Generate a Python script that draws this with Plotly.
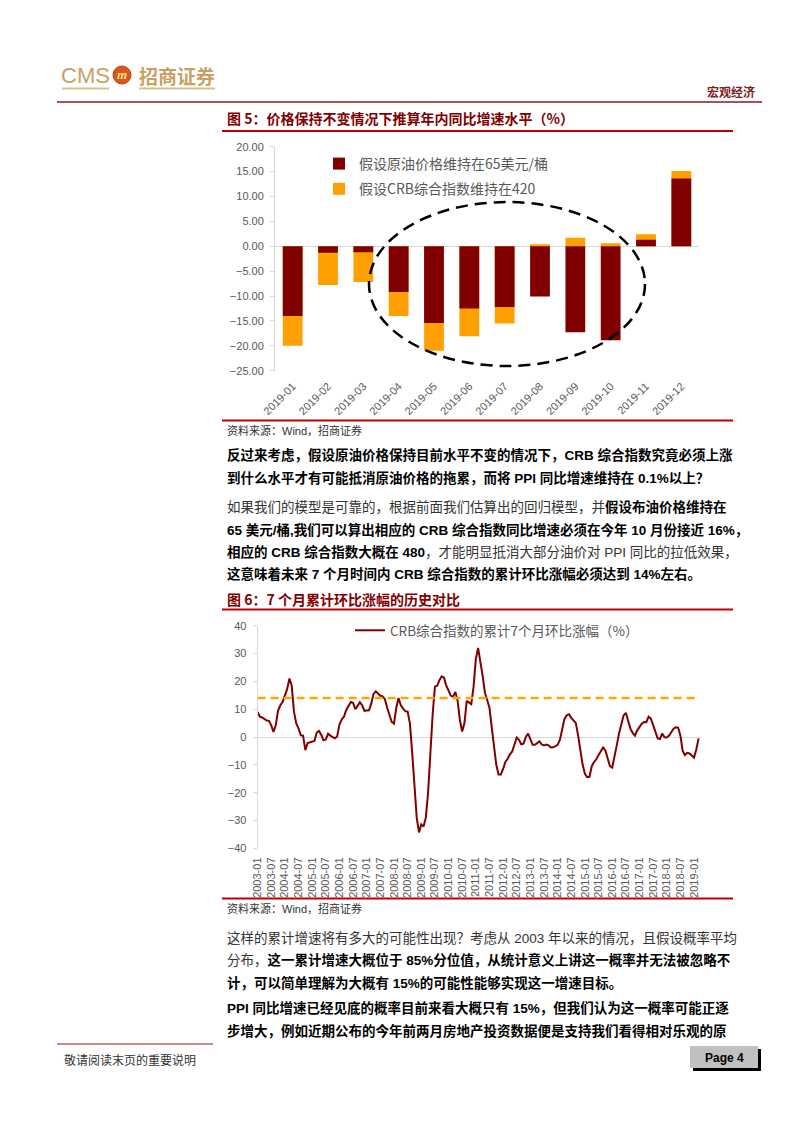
import plotly.graph_objects as go

# ---------------- data ----------------
bar_months = ['2019-01', '2019-02', '2019-03', '2019-04', '2019-05', '2019-06',
              '2019-07', '2019-08', '2019-09', '2019-10', '2019-11', '2019-12']
oil65 = [-14.0, -1.3, -1.2, -9.2, -15.4, -12.5, -12.2, -10.1, -17.3, -18.9, 1.3, 13.6]
crb420 = [-20.0, -7.8, -7.2, -14.0, -21.0, -18.1, -15.5, 0.4, 1.7, 0.6, 2.4, 15.1]
bar_name_oil = '假设原油价格维持在65美元/桶'
bar_name_crb = '假设CRB综合指数维持在420'

line_months = [f'{y}-{m:02d}' for y in range(2003, 2020) for m in range(1, 13)][:195]
crb7m = [
    9.0, 7.3, 7.0, 6.3, 5.9, 5.8, 4.2, 1.8, 4.3, 9.5,
    11.4, 12.6, 14.8, 17.2, 21.0, 18.4, 9.1, 4.9, 3.1, 0.6,
    0.5, -4.7, -2.2, -1.9, -1.7, -1.4, 1.6, 2.2, 0.8, -1.2,
    -0.9, 1.2, 0.5, -0.1, -0.5, 0.2, 4.5, 6.3, 7.3, 9.7,
    11.3, 12.6, 12.3, 10.0, 11.2, 12.5, 11.4, 9.4, 9.5, 9.6,
    12.0, 15.5, 16.4, 15.5, 14.8, 14.6, 13.6, 10.5, 7.5, 5.4,
    4.8, 10.5, 14.0, 11.4, 10.2, 9.3, 9.1, 4.9, -5.5, -19.0,
    -29.0, -34.3, -31.4, -32.2, -29.0, -20.0, -4.0, 8.0, 18.1, 18.4,
    20.4, 21.8, 21.3, 18.4, 16.7, 14.8, 14.5, 16.2, 13.0, 6.0,
    2.0, 5.0, 13.0, 12.5, 11.8, 18.0, 28.0, 32.0, 27.5, 22.0,
    16.0, 13.5, 10.5, 3.5, -4.5, -10.0, -13.5, -13.5, -11.5, -9.0,
    -7.8, -6.2, -5.2, -2.5, -0.2, -1.0, -2.6, -2.4, 0.0, 1.2,
    -0.8, -2.8, -2.8, -2.1, -1.6, -2.7, -3.0, -2.7, -3.0, -3.8,
    -3.7, -3.3, -2.8, -1.0, 2.8, 6.5, 7.8, 8.2, 6.9, 6.0,
    5.0, 0.5, -5.0, -10.0, -13.2, -14.4, -14.3, -10.5, -9.0, -8.0,
    -6.5, -5.0, -3.8, -4.8, -7.5, -10.5, -11.0, -7.5, -3.0, 1.3,
    4.6, 7.7, 8.7, 6.0, 3.0, 1.5, 0.5, 2.4, 3.7, 4.8,
    5.4, 5.3, 7.3, 6.6, 4.3, 2.0, -0.5, -0.7, 1.3, -0.1,
    -0.2, 0.5, 1.6, 3.0, 3.5, 3.4, 0.5, -5.0, -6.5, -5.7,
    -5.9, -6.8, -7.4, -4.5, -0.5,
]
line_name = 'CRB综合指数的累计7个月环比涨幅（%）'
threshold = 14
line_ticks = line_months[::6]

# ---------------- page geometry helpers ----------------
W, H = 793, 1122
OFF = 8  # page body margin of the browser
def px(x): return (x - OFF) / W
def py(y): return 1 - (y - OFF) / H

FONT = 'Liberation Sans, Arial, Noto Sans CJK SC'
CJK = 'Noto Sans CJK SC, Liberation Sans'
AXIS_C = '#D9D9D9'
TXT_C = '#595959'
DARKRED = '#800000'
ORANGE = '#FF9F00'

fig = go.Figure()

# chart 1: bars (overlay, orange behind)
fig.add_trace(go.Bar(x=bar_months, y=crb420, name=bar_name_crb, marker_color=ORANGE,
                     marker_line_width=0, xaxis='x', yaxis='y', legend='legend',
                     legendgroup='b', legendrank=2))
fig.add_trace(go.Bar(x=bar_months, y=oil65, name=bar_name_oil, marker_color=DARKRED,
                     marker_line_width=0, xaxis='x', yaxis='y', legend='legend',
                     legendgroup='a', legendrank=1))

# chart 2: line
fig.add_trace(go.Scatter(x=line_months, y=crb7m, name=line_name, mode='lines',
                         line=dict(color=DARKRED, width=2), xaxis='x2', yaxis='y2',
                         legend='legend2'))

axis_common = dict(showgrid=False, automargin=False,
                   tickfont=dict(family=FONT, size=11, color=TXT_C))

fig.update_layout(
    width=W, height=H, margin=dict(l=0, r=0, t=0, b=0, pad=0, autoexpand=False),
    paper_bgcolor='white', plot_bgcolor='white',
    barmode='overlay', bargap=0.44,
    font=dict(family=CJK, color='#333333'),
    xaxis=dict(domain=[px(275), px(699)], anchor='y', type='category',
               tickangle=-45, ticks='', showline=False, ticklabelstandoff=6,
               **axis_common),
    yaxis=dict(domain=[py(370.7), py(146.7)], anchor='x', range=[-25, 20], dtick=5,
               tickformat='.2f', showline=True, linecolor=AXIS_C, linewidth=1,
               ticks='outside', ticklen=4, tickcolor=AXIS_C, zeroline=True,
               zerolinecolor=AXIS_C, zerolinewidth=1, ticklabelstandoff=4,
               **axis_common),
    xaxis2=dict(domain=[px(257.6), px(702)], anchor='y2', type='category',
                range=[0, 195.5], tickmode='array', tickvals=line_ticks, ticktext=line_ticks,
                tickangle=-90, ticks='', showline=False, ticklabelstandoff=6,
                **axis_common),
    yaxis2=dict(domain=[py(848.3), py(625.7)], anchor='x2', range=[-40, 40], dtick=10,
                showline=True, linecolor=AXIS_C, linewidth=1, ticks='outside', ticklen=4,
                tickcolor=AXIS_C, zeroline=True, zerolinecolor=AXIS_C, zerolinewidth=1,
                ticklabelstandoff=4, **axis_common),
    legend=dict(x=px(319), y=py(148), xanchor='left', yanchor='top',
                bgcolor='rgba(0,0,0,0)', traceorder='grouped', tracegroupgap=4,
                font=dict(family=CJK, size=14, color=TXT_C)),
    legend2=dict(x=px(350), y=py(615), xanchor='left', yanchor='top',
                 bgcolor='rgba(0,0,0,0)', font=dict(family=CJK, size=13.5, color=TXT_C)),
)

shapes = []
def hline(x0, x1, y, color, width):
    shapes.append(dict(type='line', xref='paper', yref='paper', x0=px(x0), x1=px(x1),
                       y0=py(y), y1=py(y), line=dict(color=color, width=width)))
def rect(x0, y0, x1, y1, fill):
    shapes.append(dict(type='rect', xref='paper', yref='paper', x0=px(x0), x1=px(x1),
                       y0=py(y1), y1=py(y0), fillcolor=fill, line=dict(width=0)))

# header
hline(57, 762, 102, '#8B1A1A', 1.5)
hline(62, 109, 88.5, '#D8BF8A', 2)
hline(139, 215, 88.5, '#D8BF8A', 2)
shapes.append(dict(type='circle', xref='paper', yref='paper', x0=px(113), x1=px(131),
                   y0=py(84), y1=py(66), fillcolor='#D65A1E', line=dict(color='#B8401A', width=1)))
# chart frames
hline(222, 733, 131, '#C00000', 2)
hline(222, 733, 420.5, '#C00000', 2)
hline(222, 733, 609.5, '#C00000', 2)
hline(222, 733, 898.5, '#C00000', 2)
# ellipse highlight in chart 1
shapes.append(dict(type='circle', xref='paper', yref='paper', x0=px(369), x1=px(645),
                   y0=py(366), y1=py(202), line=dict(color='black', width=2.5, dash='12px,7px')))
# threshold line in chart 2
shapes.append(dict(type='line', xref='x2', yref='y2', x0=line_months[0], x1=line_months[-1],
                   y0=threshold, y1=threshold, line=dict(color='#FFA500', width=2.5, dash='8px,5px')))
# footer
hline(57, 213, 1044, '#8B1A1A', 1)
rect(693, 1049, 761, 1071, 'black')
rect(690, 1046, 758, 1068, '#C0C0C0')
fig.update_layout(shapes=shapes)

ann = []
def text(x, y, s, size=13.5, color='#000000', anchor='left', family=CJK):
    ann.append(dict(xref='paper', yref='paper', x=px(x), y=py(y), text=s, showarrow=False,
                    xanchor=anchor, yanchor='middle', align=anchor, borderpad=0,
                    font=dict(family=family, size=size, color=color)))

text(60, 76, 'CMS', 22, '#C9A063', family='Liberation Sans, Arial')
text(122, 75, '<b><i>m</i></b>', 13, '#FFE08A', 'center', family='Liberation Serif')
text(138, 76, '<b>招商证券</b>', 19, '#C9A063')
text(756, 91, '<b>宏观经济</b>', 12, '#7A1E1E', 'right')

text(226, 118, '<b>图 5：价格保持不变情况下推算年内同比增速水平（%）</b>', 14, '#800000')
text(226, 430, '资料来源：Wind，招商证券', 11, '#333333', family=FONT)

N = '<span style="color:#333333;font-weight:normal">'
text(226, 455, '<b>反过来考虑，假设原油价格保持目前水平不变的情况下，CRB 综合指数究竟必须上涨</b>', family=FONT)
text(226, 478, '<b>到什么水平才有可能抵消原油价格的拖累，而将 PPI 同比增速维持在 0.1%以上？</b>', family=FONT)

text(226, 507, N + '如果我们的模型是可靠的，根据前面我们估算出的回归模型，并</span><b>假设布油价格维持在</b>', family=FONT)
text(226, 530, '<b>65 美元/桶,我们可以算出相应的 CRB 综合指数同比增速必须在今年 10 月份接近 16%，</b>', family=FONT)
text(226, 552, '<b>相应的 CRB 综合指数大概在 480</b>' + N + '，才能明显抵消大部分油价对 PPI 同比的拉低效果，</span>', family=FONT)
text(226, 574, '<b>这意味着未来 7 个月时间内 CRB 综合指数的累计环比涨幅必须达到 14%左右。</b>', family=FONT)

text(226, 599, '<b>图 6：7 个月累计环比涨幅的历史对比</b>', 14, '#800000')
text(226, 908, '资料来源：Wind，招商证券', 11, '#333333', family=FONT)

text(226, 938, N + '这样的累计增速将有多大的可能性出现？考虑从 2003 年以来的情况，且假设概率平均</span>', family=FONT)
text(226, 960, N + '分布，</span><b>这一累计增速大概位于 85%分位值，从统计意义上讲这一概率并无法被忽略不</b>', family=FONT)
text(226, 983, '<b>计，可以简单理解为大概有 15%的可能性能够实现这一增速目标。</b>', family=FONT)
text(226, 1008, '<b>PPI 同比增速已经见底的概率目前来看大概只有 15%，但我们认为这一概率可能正逐</b>', family=FONT)
text(226, 1031, '<b>步增大，例如近期公布的今年前两月房地产投资数据便是支持我们看得相对乐观的原</b>', family=FONT)

text(63, 1059, '敬请阅读末页的重要说明', 12, '#333333')
text(724, 1058, '<b>Page 4</b>', 12, '#000000', 'center', family='Liberation Sans, Arial')

fig.update_layout(annotations=ann)
fig.write_html('out.html')
